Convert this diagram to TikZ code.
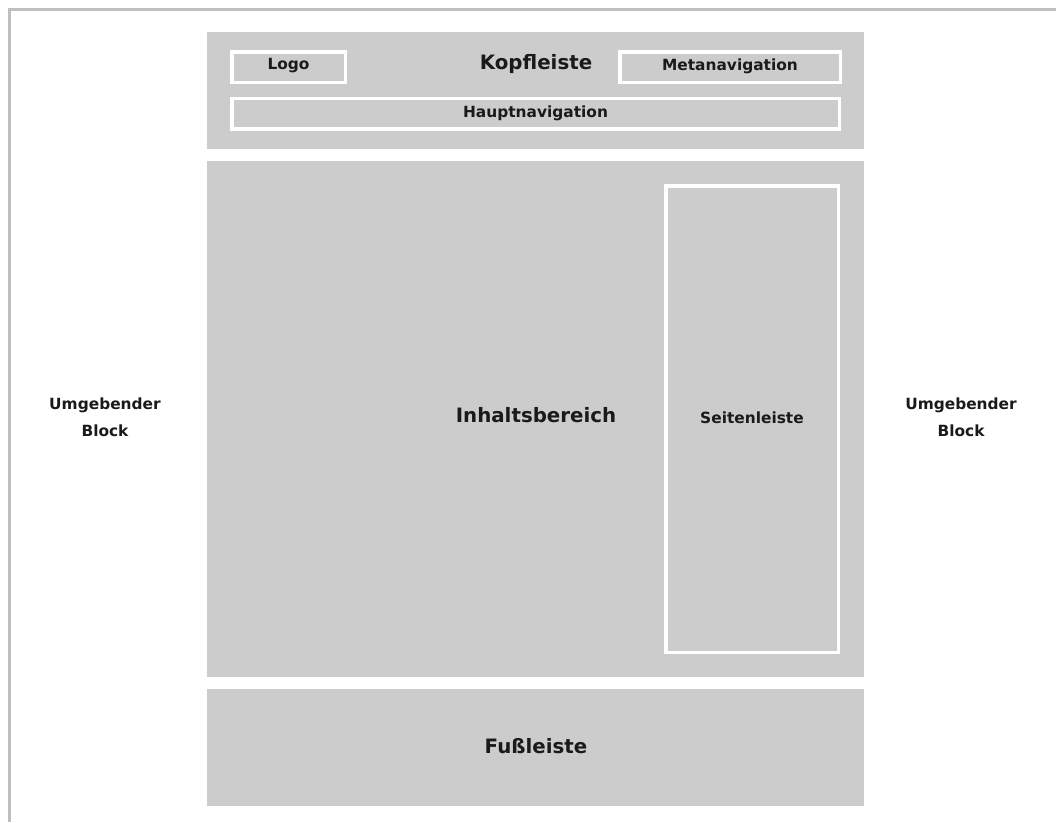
\documentclass[tikz,border=0pt]{standalone}
\usepackage{fontspec}
\setmainfont{DejaVu Sans}
\definecolor{blockgray}{HTML}{CCCCCC}
\definecolor{framegray}{HTML}{BEBEBE}
\definecolor{txt}{HTML}{1A1A1A}
\tikzset{
  area/.style={fill=blockgray, draw=none, inner sep=0pt, anchor=center},
  subbox/.style={draw=white, line width=3.5pt, fill=none, inner sep=0pt, anchor=center},
  bigtext/.style={font=\fontsize{19.8}{22}\selectfont\bfseries, text=txt, inner sep=0pt},
  smalltext/.style={font=\fontsize{15.4}{27}\selectfont\bfseries, text=txt, inner sep=0pt, align=center},
}
\begin{document}
\begin{tikzpicture}[x=1pt,y=-1pt]
\useasboundingbox (0,0) rectangle (1056,822);
\coordinate (fbl) at (9.5,822);
\coordinate (ftl) at (9.5,9.5);
\coordinate (ftr) at (1056,9.5);
\draw[framegray, line width=3pt] (fbl) -- (ftl) -- (ftr);
% main areas
\node[area, minimum width=657pt, minimum height=117pt] (kopf) at (535.5,90.5) {};
\node[area, minimum width=657pt, minimum height=516pt] (inhalt) at (535.5,419) {};
\node[area, minimum width=657pt, minimum height=117pt] (fuss) at (535.5,747.5) {};
% sub boxes
\node[subbox, minimum width=113.5pt, minimum height=30.5pt] (logo) at (288.5,67) {};
\node[subbox, minimum width=220.5pt, minimum height=30.5pt] (meta) at (730,67) {};
\node[subbox, minimum width=607.5pt, minimum height=30.8pt] (haupt) at (535.5,113.8) {};
\node[subbox, minimum width=172.5pt, minimum height=466.5pt] (seite) at (752,419) {};
% labels
\node[bigtext] (kopft) at (536,64.5) {Kopfleiste};
\node[smalltext] (logot) at (288.5,66) {Logo};
\node[smalltext] (metat) at (730,66) {Metanavigation};
\node[smalltext] (hauptt) at (535.5,113) {Hauptnavigation};
\node[bigtext] (inhaltt) at (536,415.5) {Inhaltsbereich};
\node[smalltext] (seitet) at (752,418) {Seitenleiste};
\node[bigtext] (fusst) at (536,746.5) {Fußleiste};
\node[smalltext] (umgl) at (105,417) {Umgebender\\Block};
\node[smalltext] (umgr) at (961,417) {Umgebender\\Block};
\end{tikzpicture}
\end{document}
